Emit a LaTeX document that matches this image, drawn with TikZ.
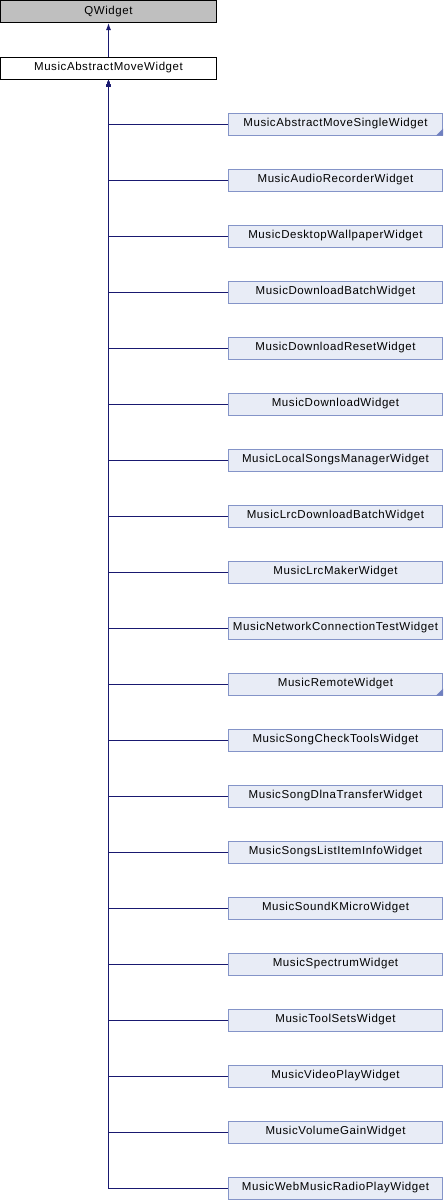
\documentclass[tikz,border=0pt]{standalone}
\usepackage{fontspec}
\setmainfont{Liberation Sans}[LetterSpace=5]
\usetikzlibrary{arrows.meta}
\definecolor{edgeblue}{HTML}{191970}
\definecolor{childfill}{HTML}{E8ECF6}
\definecolor{childline}{HTML}{8494C8}
\definecolor{cornerblue}{HTML}{7080C0}
\tikzset{
  box/.style={draw, line width=1pt, inner sep=0pt, minimum height=22pt,
    font=\fontsize{11.5}{13}\selectfont},
  basebox/.style={box, minimum width=216pt},
  child/.style={box, fill=childfill, draw=childline, minimum width=214pt},
  edge/.style={edgeblue, line width=1pt, -{Latex[length=7pt,width=5pt]}}
}
\begin{document}
\begin{tikzpicture}[x=1pt,y=-1pt]
      \useasboundingbox (0,0) rectangle (444,1200);
      \draw
        (108.5,11.5) node[basebox, fill=black!25] (0){QWidget}
        (108.5,68) node[basebox, fill=white] (1){MusicAbstractMoveWidget}
        (335.5,124) node[child] (2){MusicAbstractMoveSingleWidget}
        (335.5,180) node[child] (3){MusicAudioRecorderWidget}
        (335.5,236) node[child] (4){MusicDesktopWallpaperWidget}
        (335.5,292) node[child] (5){MusicDownloadBatchWidget}
        (335.5,348) node[child] (6){MusicDownloadResetWidget}
        (335.5,404) node[child] (7){MusicDownloadWidget}
        (335.5,460) node[child] (8){MusicLocalSongsManagerWidget}
        (335.5,516) node[child] (9){MusicLrcDownloadBatchWidget}
        (335.5,572) node[child] (10){MusicLrcMakerWidget}
        (335.5,628) node[child] (11){MusicNetworkConnectionTestWidget}
        (335.5,684) node[child] (12){MusicRemoteWidget}
        (335.5,740) node[child] (13){MusicSongCheckToolsWidget}
        (335.5,796) node[child] (14){MusicSongDlnaTransferWidget}
        (335.5,852) node[child] (15){MusicSongsListItemInfoWidget}
        (335.5,908) node[child] (16){MusicSoundKMicroWidget}
        (335.5,964) node[child] (17){MusicSpectrumWidget}
        (335.5,1020) node[child] (18){MusicToolSetsWidget}
        (335.5,1076) node[child] (19){MusicVideoPlayWidget}
        (335.5,1132) node[child] (20){MusicVolumeGainWidget}
        (335.5,1188) node[child] (21){MusicWebMusicRadioPlayWidget};
      % small corner marks
      \fill[cornerblue] ([xshift=-7pt]2.south east) -- (2.south east) -- ([yshift=7pt]2.south east) -- cycle;
      \fill[cornerblue] ([xshift=-7pt]12.south east) -- (12.south east) -- ([yshift=7pt]12.south east) -- cycle;
      \begin{scope}[edge]
        \draw (1) to (0);
        \draw (2.west) -| (1.south);
        \draw (3.west) -| (1.south);
        \draw (4.west) -| (1.south);
        \draw (5.west) -| (1.south);
        \draw (6.west) -| (1.south);
        \draw (7.west) -| (1.south);
        \draw (8.west) -| (1.south);
        \draw (9.west) -| (1.south);
        \draw (10.west) -| (1.south);
        \draw (11.west) -| (1.south);
        \draw (12.west) -| (1.south);
        \draw (13.west) -| (1.south);
        \draw (14.west) -| (1.south);
        \draw (15.west) -| (1.south);
        \draw (16.west) -| (1.south);
        \draw (17.west) -| (1.south);
        \draw (18.west) -| (1.south);
        \draw (19.west) -| (1.south);
        \draw (20.west) -| (1.south);
        \draw (21.west) -| (1.south);
      \end{scope}
    \end{tikzpicture}
\end{document}
